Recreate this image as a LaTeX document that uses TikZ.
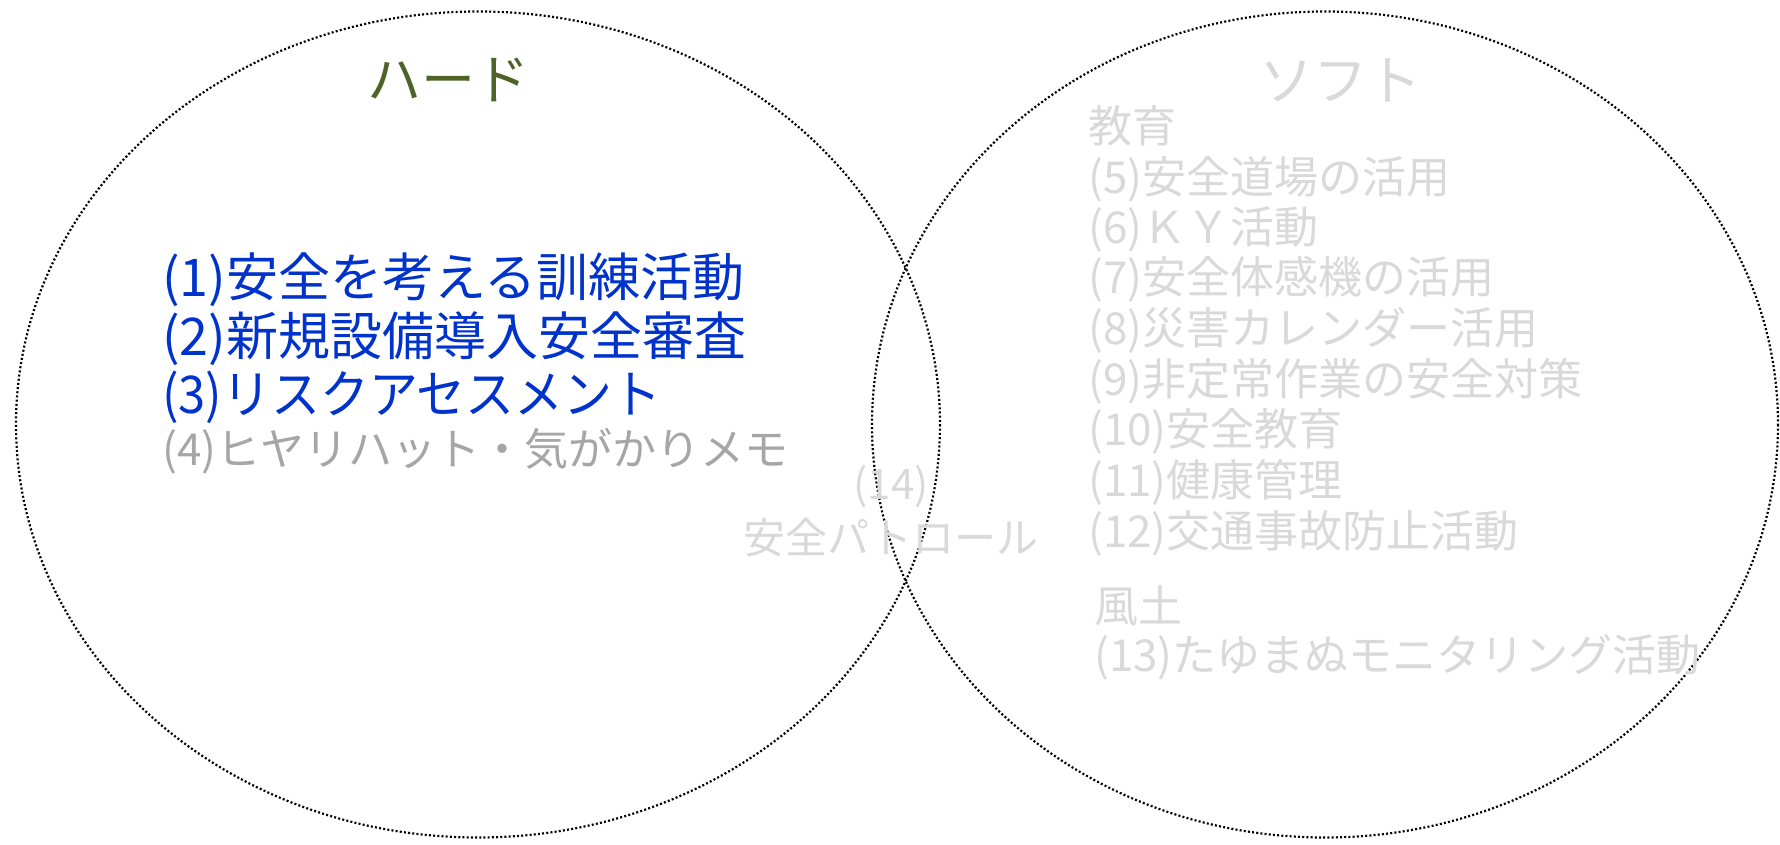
\documentclass[tikz,border=0pt]{standalone}
\usepackage{fontspec}
\setmainfont{Noto Sans CJK JP}
\definecolor{hardgreen}{HTML}{4F6228}
\definecolor{itemblue}{HTML}{0033CC}
\definecolor{midgray}{HTML}{A6A6A6}
\definecolor{lightgray}{HTML}{D9D9D9}
\tikzset{
  ring/.style={line width=2.2pt, dash pattern=on 2pt off 2.2pt, black},
  title/.style={inner sep=0pt, font=\fontsize{54}{60}\selectfont},
  hitem/.style={inner sep=0pt, anchor=west, text=itemblue, font=\fontsize{52}{58}\selectfont},
  hgray/.style={inner sep=0pt, anchor=west, text=midgray, font=\fontsize{44}{52}\selectfont},
  sitem/.style={inner sep=0pt, anchor=west, text=lightgray, font=\fontsize{44}{50}\selectfont},
  mid/.style={inner sep=0pt, text=lightgray, font=\fontsize{42}{50}\selectfont}
}
\begin{document}
\begin{tikzpicture}[x=1pt,y=-1pt]
\useasboundingbox (0,0) rectangle (1780,845);
\fill[white] (0,0) rectangle (1780,845);
\draw[ring] (478,424.5) ellipse [x radius=462, y radius=413];
\draw[ring] (1325,424.5) ellipse [x radius=453, y radius=413];
\node[title, text=hardgreen] (hard) at (448,80) {ハード};
\node[title, text=lightgray] (soft) at (1340,80) {ソフト};
\node[hitem] (h1) at (162,280) {(1)安全を考える訓練活動};
\node[hitem] (h2) at (162,339) {(2)新規設備導入安全審査};
\node[hitem] (h3) at (162,397) {\scalebox{0.94}[1]{(3)リスクアセスメント}};
\node[hgray] (h4) at (162,451) {(4)ヒヤリハット・気がかりメモ};
\node[mid] (m1) at (891,486) {(14)};
\node[mid] (m2) at (891,538) {安全パトロール};
\node[sitem] (edu) at (1088,126) {教育};
\node[sitem] (s5) at (1088,179) {(5)安全道場の活用};
\node[sitem] (s6) at (1088,229) {(6)ＫＹ活動};
\node[sitem] (s7) at (1088,279) {(7)安全体感機の活用};
\node[sitem] (s8) at (1088,330) {(8)災害カレンダー活用};
\node[sitem] (s9) at (1088,381) {(9)非定常作業の安全対策};
\node[sitem] (s10) at (1088,431) {(10)安全教育};
\node[sitem] (s11) at (1088,482) {(11)健康管理};
\node[sitem] (s12) at (1088,533) {(12)交通事故防止活動};
\node[sitem] (fudo) at (1094,606) {風土};
\node[sitem] (s13) at (1094,657) {(13)たゆまぬモニタリング活動};
\end{tikzpicture}
\end{document}
